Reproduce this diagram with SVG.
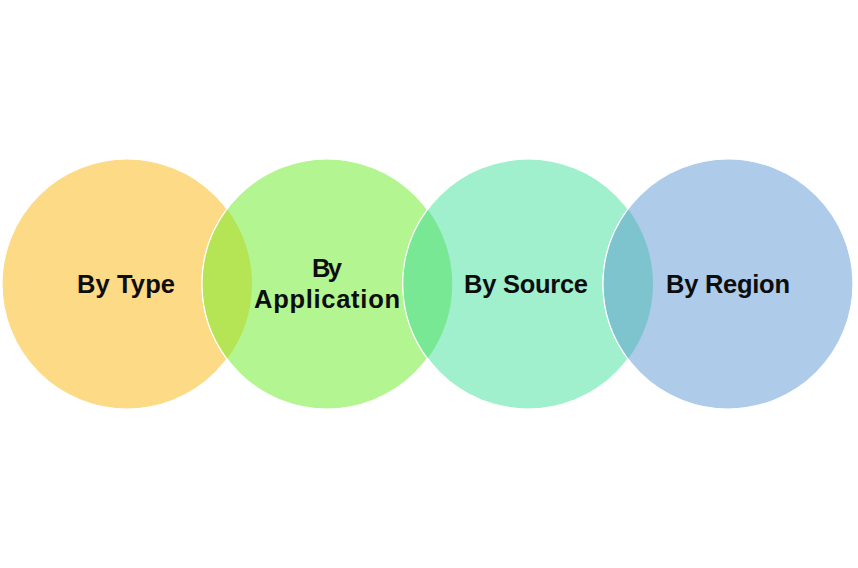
<svg xmlns="http://www.w3.org/2000/svg" width="858" height="568" viewBox="0 0 858 568">
<style>
.c{stroke:#ffffff;stroke-width:1.2}
.t{font-family:"Liberation Sans",Arial,sans-serif;font-weight:bold;font-size:25.5px;fill:#0d0d0d;text-anchor:middle}
</style>
<rect width="858" height="568" fill="#ffffff"/>
<g id="type"><circle class="c" cx="127" cy="284" r="125" fill="#FDDA85"/></g>
<g id="application"><circle class="c" cx="327" cy="284" r="125" fill="#B3F590"/></g>
<g id="source"><circle class="c" cx="528" cy="284" r="125" fill="#A0F0CE"/></g>
<g id="region"><circle class="c" cx="728" cy="284" r="125" fill="#AECBEA"/></g>
<g id="overlaps">
<path d="M227,209 A125,125 0 0,1 227,359 A125,125 0 0,1 227,209 Z" fill="#B5E454"/>
<path d="M427.5,209.3 A125,125 0 0,1 427.5,358.7 A125,125 0 0,1 427.5,209.3 Z" fill="#78E894"/>
<path d="M628,209 A125,125 0 0,1 628,359 A125,125 0 0,1 628,209 Z" fill="#7EC4CE"/>
<path d="M227,209 A125,125 0 0,0 227,359" fill="none" stroke="#fff" stroke-width="1.2"/>
<path d="M427.5,209.3 A125,125 0 0,0 427.5,358.7" fill="none" stroke="#fff" stroke-width="1.2"/>
<path d="M628,209 A125,125 0 0,0 628,359" fill="none" stroke="#fff" stroke-width="1.2"/>
</g>
<g id="labels">
<text class="t" x="126" y="293" textLength="98">By Type</text>
<text class="t" x="327" y="277" textLength="30">By</text>
<text class="t" x="327" y="308" textLength="146">Application</text>
<text class="t" x="526" y="293" textLength="124">By Source</text>
<text class="t" x="728" y="293" textLength="124">By Region</text>
</g>
</svg>
